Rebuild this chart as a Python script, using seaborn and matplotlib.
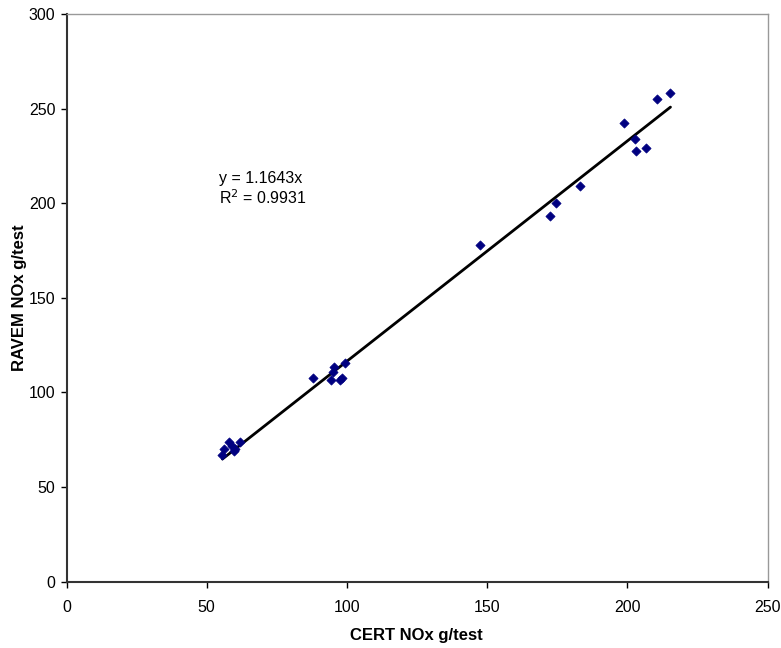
import matplotlib
matplotlib.use("Agg")
import matplotlib.pyplot as plt
import seaborn as sns
import numpy as np
import pandas as pd

# Paired NOx measurements per test (g/test)
cert_nox = [55.6, 56.0, 58.0, 59.0, 59.6, 60.0, 62.0,
            87.8, 94.4, 95.0, 95.3, 97.5, 98.4, 99.5,
            147.6, 172.4, 174.6, 183.0,
            199.0, 202.9, 203.0, 206.8, 210.7, 215.4]
ravem_nox = [66.7, 70.0, 74.0, 71.5, 68.8, 70.0, 73.5,
             107.6, 106.7, 110.7, 113.4, 106.7, 107.8, 115.5,
             177.8, 193.1, 200.2, 209.0,
             242.2, 233.8, 227.4, 229.1, 254.9, 258.0]

slope = 1.1643
r_squared = 0.9931

x_ticks = [0, 50, 100, 150, 200, 250]
y_ticks = [0, 50, 100, 150, 200, 250, 300]

df = pd.DataFrame({"CERT": cert_nox, "RAVEM": ravem_nox})

sns.set_style("white")
plt.rcParams["font.family"] = ["Liberation Sans", "DejaVu Sans"]
plt.rcParams["text.color"] = "black"
plt.rcParams["axes.labelcolor"] = "black"
plt.rcParams["xtick.color"] = "black"
plt.rcParams["ytick.color"] = "black"

fig = plt.figure(figsize=(7.81, 6.48), dpi=100)
ax = fig.add_axes([66.5 / 781, 1 - 581.5 / 648, 701 / 781, 567.5 / 648])

sns.scatterplot(data=df, x="CERT", y="RAVEM", ax=ax, marker="D", s=22,
                color="#000080", edgecolor="#000080", linewidth=0.5, zorder=3)

# Trendline through the origin, spanning the data range
xl = np.array([min(cert_nox), max(cert_nox)])
ax.plot(xl, slope * xl, color="black", linewidth=2, zorder=2)

ax.text(54.5, 213, f"y = {slope}x", fontsize=11.5, va="center")
ax.text(54.5, 203, f"R$^2$ = {r_squared}", fontsize=11.5, va="center")

ax.set_xlim(0, 250)
ax.set_ylim(0, 300)
ax.set_xticks(x_ticks)
ax.set_yticks(y_ticks)
ax.tick_params(axis="both", direction="out", length=4, width=1,
               labelsize=11.5, bottom=True, left=True)
ax.tick_params(axis="x", pad=9)
ax.tick_params(axis="y", pad=4)

for side in ["left", "bottom"]:
    ax.spines[side].set_color("#333333")
    ax.spines[side].set_linewidth(1.5)
for side in ["top", "right"]:
    ax.spines[side].set_color("#999999")
    ax.spines[side].set_linewidth(1.0)

ax.set_xlabel("CERT NOx g/test", fontsize=12, fontweight="bold")
ax.set_ylabel("RAVEM NOx g/test", fontsize=12, fontweight="bold")
ax.xaxis.set_label_coords((416 - 66.5) / 701, (581.5 - 628) / 567.5)
ax.yaxis.set_label_coords((27 - 66.5) / 701, (581.5 - 298) / 567.5)

fig.savefig("out.png", dpi=100)
